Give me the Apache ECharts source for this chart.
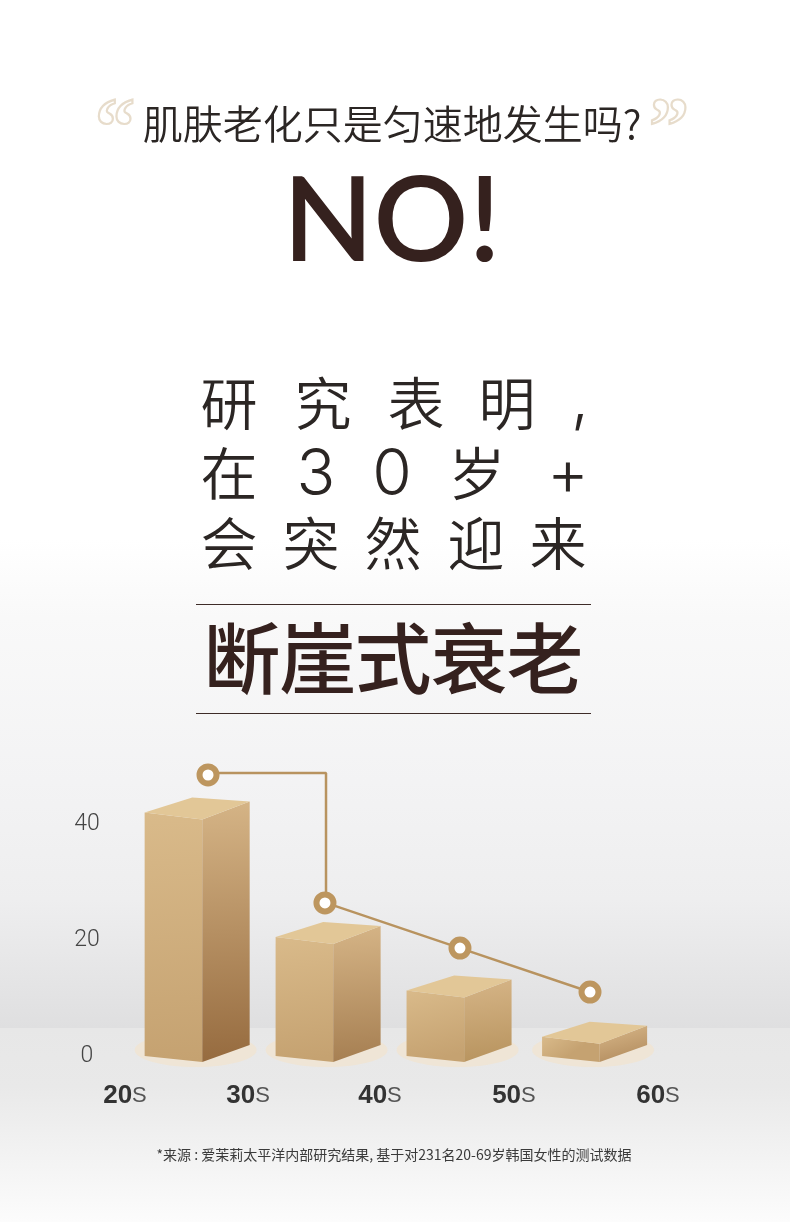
<!DOCTYPE html>
<html><head><meta charset="utf-8">
<style>html,body{margin:0;padding:0;background:#fff}#c{width:790px;height:1222px}</style>
<script src="https://cdn.jsdelivr.net/npm/echarts@6/dist/echarts.min.js"></script>
</head><body><div id="c"></div>
<script>
const categories = ['20','30','40','50','60'];
const categoryTicks = [20, 29.4, 39.47, 49.7, 60.7];
const yTicks = [0, 20, 40];
const barStart = [21.5, 31.5, 41.5, 51.85];
const barValues = [42, 20.5, 11.3, 3.3];
const sideBottomColors = ['#966b3f', '#a67f52', '#b8945f', '#b48e60'];
const trendAges = [26.34, 35.27, 45.58, 55.51];
const trendValues = [48.45, 26.4, 18.6, 11.03];
const connectorAges = [26.34, 35.35, 35.35, 45.58, 55.51];
const connectorValues = [48.8, 48.8, 26.4, 18.6, 11.03];

const CJK = '"Noto Sans CJK SC"';
const DARK = '#35211e';
const bigFont = '350 57px '+CJK, latinFont = '300 64px Inter';
const bigLines = [
  {chars:['研','究','表','明',','], xs:[229,323,416,507,580], y:[403,403,403,403,401], fonts:[bigFont,bigFont,bigFont,bigFont,latinFont]},
  {chars:['在','3','0','岁','+'], xs:[229,316,392,477,568], y:[473,476,476,473,476], fonts:[bigFont,latinFont,latinFont,bigFont,latinFont]},
  {chars:['会','突','然','迎','来'], xs:[229,311,393,476,558], y:[543,543,543,543,543], fonts:[bigFont,bigFont,bigFont,bigFont,bigFont]}
];
const headingChars = ['断','崖','式','衰','老'];
const headingXs = [242,318,393,469,545];

const chart = echarts.init(document.getElementById('c'), null, {width:790,height:1222});
const graphics = [
  {type:'rect', z:-10, shape:{x:0,y:0,width:790,height:1028},
   style:{fill:new echarts.graphic.LinearGradient(0,0,0,1,[
     {offset:0,color:'#ffffff'},{offset:0.525,color:'#ffffff'},{offset:0.6,color:'#f9f9f9'},
     {offset:0.76,color:'#f3f3f4'},{offset:0.875,color:'#eeeeef'},{offset:1,color:'#dfdfe0'}])}},
  {type:'rect', z:-10, shape:{x:0,y:1028,width:790,height:194},
   style:{fill:new echarts.graphic.LinearGradient(0,0,0,1,[
     {offset:0,color:'#e7e7e7'},{offset:0.3,color:'#e9e9e9'},{offset:0.6,color:'#f1f1f1'},{offset:1,color:'#fcfcfc'}])}},
  {type:'text', z:5, style:{text:'肌肤老化只是匀速地发生吗?', x:392, y:124, align:'center', verticalAlign:'middle',
    font:'350 40px '+CJK, fill:'#2b2624'}},
  {type:'text', z:5, style:{text:'“', x:115, y:132, align:'center', verticalAlign:'middle',
    font:'bold 80px "Liberation Serif"', fill:'rgba(0,0,0,0)', stroke:'#e7dccb', lineWidth:2.2}},
  {type:'text', z:5, style:{text:'”', x:669, y:132, align:'center', verticalAlign:'middle',
    font:'bold 80px "Liberation Serif"', fill:'rgba(0,0,0,0)', stroke:'#e7dccb', lineWidth:2.2}},
  {type:'text', z:5, style:{text:'NO!', x:392, y:223, align:'center', verticalAlign:'middle',
    font:'600 118px Lato', fill:DARK}},
  {type:'line', z:5, shape:{x1:196,y1:604.5,x2:591,y2:604.5}, style:{stroke:'#3e2c28',lineWidth:1}},
  {type:'line', z:5, shape:{x1:196,y1:713.5,x2:591,y2:713.5}, style:{stroke:'#3e2c28',lineWidth:1}},
  {type:'text', z:5, style:{text:'*来源 : 爱茉莉太平洋内部研究结果, 基于对231名20-69岁韩国女性的测试数据', x:394, y:1155,
    align:'center', verticalAlign:'middle', font:'14px '+CJK, fill:'#3a3a3a'}}
];
bigLines.forEach(l => l.chars.forEach((ch,i) => graphics.push({type:'text', z:5, style:{
  text:ch, x:l.xs[i], y:l.y[i], align:'center', verticalAlign:'middle', font:l.fonts[i], fill:'#2b2624'}})));
headingChars.forEach((ch,i) => graphics.push({type:'text', z:5, style:{
  text:ch, x:headingXs[i], y:659, align:'center', verticalAlign:'middle', font:'500 77px '+CJK, fill:DARK}}));

const FRONT = 4.4, DEPTH = 3.62;
function renderBox(params, api){
  const i = params.dataIndex;
  const a = api.coord([api.value(0), api.value(1)]);
  const b = api.coord([api.value(0), 0]);
  const fx = a[0], fxr = api.coord([api.value(0)+FRONT,0])[0], bxr = api.coord([api.value(0)+FRONT+DEPTH,0])[0];
  const top = a[1], bot = b[1];
  const lg = (c) => new echarts.graphic.LinearGradient(c[0],c[1],c[2],c[3],[{offset:0,color:c[4]},{offset:1,color:c[5]}]);
  return {type:'group', children:[
    {type:'ellipse', shape:{cx:fx+51, cy:bot-6, rx:61, ry:17}, style:{fill:'#efe5d6'}},
    {type:'polygon', shape:{points:[[fx,top],[fxr,top+7],[fxr,bot+6],[fx,bot]]},
      style:{fill:lg([0,0,0.3,1,'#d9ba8a','#c5a271'])}},
    {type:'polygon', shape:{points:[[fxr,top+7],[bxr,top-11],[bxr,bot-11],[fxr,bot+6]]},
      style:{fill:lg([0.3,0,0.5,1,'#d5b486',sideBottomColors[i]])}},
    {type:'polygon', shape:{points:[[fx,top],[fxr-10,top-15],[bxr,top-11],[fxr,top+7]]},
      style:{fill:'#e2c797'}}
  ]};
}

chart.setOption({
  animation:false,
  graphic:graphics,
  grid:{left:125, right:115, top:766, bottom:166},
  xAxis:{type:'value', min:20, max:62, splitLine:{show:false}, axisLine:{show:false}, axisTick:{show:false},
    axisLabel:{customValues:categoryTicks, margin:27, hideOverlap:false, showMinLabel:true, showMaxLabel:true,
      formatter:(v)=>{const idx=categoryTicks.indexOf(v); return '{n|'+categories[idx]+'}{s|S}';},
      rich:{n:{fontFamily:'Liberation Sans',fontWeight:'bold',fontSize:26,color:'#333'},
            s:{fontFamily:'Liberation Sans',fontSize:22,color:'#555'}}}},
  yAxis:{type:'value', min:0, max:50, splitLine:{show:false}, axisLine:{show:false}, axisTick:{show:false},
    axisLabel:{customValues:yTicks, margin:38, align:'center', verticalAlign:'middle',
      fontFamily:'Roboto', fontWeight:300, fontSize:23, color:'#444'}},
  series:[
    {type:'custom', coordinateSystem:'cartesian2d', renderItem:renderBox, z:2,
     data:barStart.map((x,i)=>[x,barValues[i]])},
    {type:'line', z:3, symbol:'none', silent:true, lineStyle:{color:'#b8935f',width:2.5},
     data:connectorAges.map((x,i)=>[x,connectorValues[i]])},
    {type:'scatter', z:4, symbol:'circle', symbolSize:17, silent:true,
     itemStyle:{color:'#fff',borderColor:'#bd965f',borderWidth:6,opacity:1},
     data:trendAges.map((x,i)=>[x,trendValues[i]])}
  ]
});
</script></body></html>
